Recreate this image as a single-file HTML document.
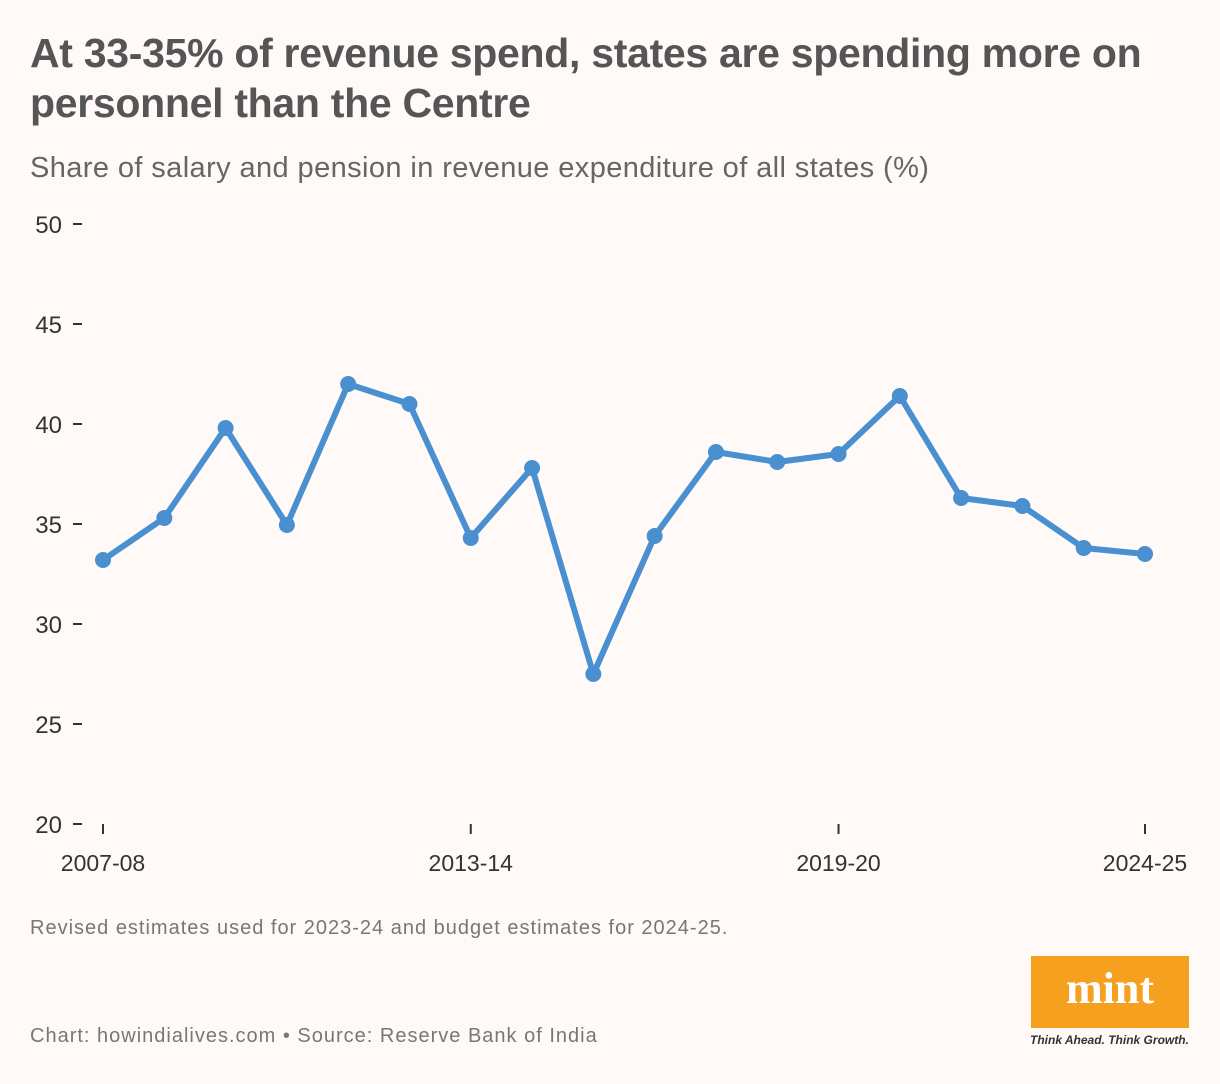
<!DOCTYPE html>
<html><head><meta charset="utf-8"><style>
body{margin:0;background:#fff9f8;font-family:"Liberation Sans",sans-serif;}
#wrap{position:relative;width:1220px;height:1084px;overflow:hidden;background:#fff9f8;}
h1{position:absolute;left:30px;top:28px;margin:0;font-size:41px;line-height:50px;font-weight:bold;color:#555;letter-spacing:-0.3px;}
.sub{position:absolute;left:30px;top:152px;font-size:29px;color:#666;letter-spacing:0.4px;}
.note{position:absolute;left:30px;top:917px;font-size:20px;color:#777;letter-spacing:1px;}
.src{position:absolute;left:30px;top:1025px;font-size:20px;color:#777;letter-spacing:1px;}
#logo{position:absolute;left:1031px;top:956px;width:158px;height:72px;background:#f6a01f;color:#fff;font-family:"Liberation Serif",serif;font-weight:bold;font-size:44px;text-align:center;line-height:66px;}
.tag{position:absolute;left:1030px;top:1033px;font-size:12px;font-style:italic;font-weight:bold;color:#333;}
svg{position:absolute;left:0;top:0;}
</style></head><body>
<div id="wrap">
<h1>At 33-35% of revenue spend, states are spending more on<br>personnel than the Centre</h1>
<div class="sub">Share of salary and pension in revenue expenditure of all states (%)</div>
<svg id="chart" width="1220" height="1084"></svg>
<div class="note">Revised estimates used for 2023-24 and budget estimates for 2024-25.</div>
<div class="src">Chart: howindialives.com • Source: Reserve Bank of India</div>
<div id="logo">mint</div>
<div class="tag">Think Ahead. Think Growth.</div>
</div>
<script>
const categories=["2007-08","2008-09","2009-10","2010-11","2011-12","2012-13","2013-14","2014-15","2015-16","2016-17","2017-18","2018-19","2019-20","2020-21","2021-22","2022-23","2023-24","2024-25"];
const values=[33.2,35.3,39.8,34.95,42,41,34.3,37.8,27.5,34.4,38.6,38.1,38.5,41.4,36.3,35.9,33.8,33.5];
const yTicks=[20,25,30,35,40,45,50];
const xLabels=["2007-08","2013-14","2019-20","2024-25"];
const NS="http://www.w3.org/2000/svg";
const svg=document.getElementById('chart');
const x0=103,x1=1145,yTop=224,yBot=824,yMin=20,yMax=50;
const xs=i=>x0+(x1-x0)*i/(categories.length-1);
const ys=v=>yBot-(v-yMin)/(yMax-yMin)*(yBot-yTop);
function mk(t,a){const e=document.createElementNS(NS,t);for(const k in a)e.setAttribute(k,a[k]);svg.appendChild(e);return e;}
yTicks.forEach(v=>{
 const t=mk('text',{x:62,y:ys(v)+9,'text-anchor':'end','font-size':24,fill:'#333','font-family':'Liberation Sans, sans-serif'});
 t.textContent=v;
 
 
 const l=mk('line',{x1:73,x2:82,y1:ys(v),y2:ys(v),stroke:'#333','stroke-width':2});
 
 
});
xLabels.forEach(lab=>{
 const i=categories.indexOf(lab);
 const l=mk('line',{x1:xs(i),x2:xs(i),y1:824,y2:834,stroke:'#333','stroke-width':2});
 
 
 const t=mk('text',{x:xs(i),y:871,'text-anchor':'middle','font-size':23,fill:'#333','font-family':'Liberation Sans, sans-serif'});
 t.textContent=lab;
 
 
});
const p=mk('polyline',{points:values.map((v,i)=>xs(i)+','+ys(v)).join(' '),fill:'none',stroke:'#4a90d0','stroke-width':6,'stroke-linejoin':'round'});


values.forEach((v,i)=>{
 const c=mk('circle',{cx:xs(i),cy:ys(v),r:8,fill:'#4a90d0'});
 
 
});
</script>
</body></html>
